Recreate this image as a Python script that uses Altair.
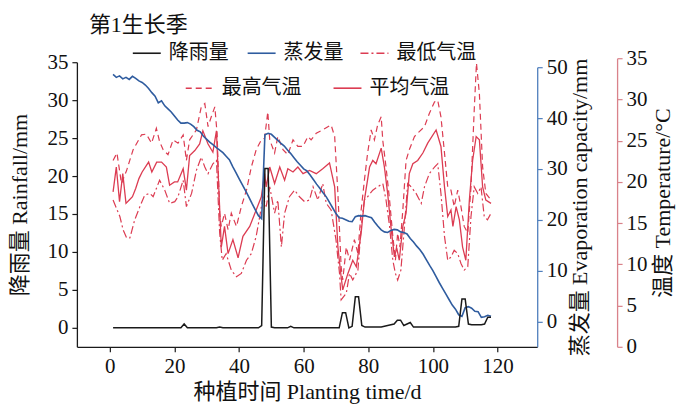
import altair as alt
import pandas as pd

FONT = "Liberation Serif, Noto Sans CJK SC"

# ---------------- data ----------------
rain_days = list(range(1, 119))
rain_mm = [
    0, 0, 0, 0, 0, 0, 0, 0, 0, 0,
    0, 0, 0, 0, 0, 0, 0, 0, 0, 0,
    0, 0, 0.5, 0, 0, 0, 0, 0, 0, 0,
    0, 0, 0, 0.1, 0, 0, 0, 0, 0, 0,
    0, 0, 0, 0, 0, 0, 0.3, 21.0, 21.0, 0.1,
    0, 0, 0, 0, 0, 0.2, 0, 0, 0, 0,
    0, 0, 0, 0, 0, 0, 0, 0, 0, 0,
    0, 2.0, 2.0, 0, 0.2, 4.1, 4.1, 0.3, 0.1, 0.1,
    0.1, 0.1, 0.1, 0.1, 0.2, 0.3, 0.4, 0.5, 1.0, 1.0,
    0.3, 0.5, 0.7, 0.1, 0.1, 0.1, 0.1, 0.1, 0.1, 0.1,
    0.1, 0.1, 0.1, 0.1, 0.1, 0.1, 0.1, 0.2, 3.8, 3.8,
    0.5, 0.4, 0.4, 0.4, 0.4, 0.5, 1.4, 1.4,
]

evap_days = list(range(1, 119))
evap_mm = [
    48.6, 48.0, 48.3, 47.7, 48.0, 47.6, 48.2, 47.8, 47.3, 47.0,
    46.5, 45.8, 45.0, 44.3, 43.0, 43.4, 42.4, 41.8, 41.2, 40.4,
    39.6, 39.0, 39.0, 39.1, 38.8, 38.3, 37.6, 37.3, 36.4, 35.8,
    35.2, 34.7, 34.2, 33.7, 33.2, 32.5, 31.8, 30.5, 29.3, 28.1,
    26.9, 25.7, 24.5, 23.2, 22.0, 20.8, 20.2, 36.7, 37.0, 36.8,
    36.2, 35.6, 35.0, 34.5, 33.7, 33.0, 32.2, 31.4, 30.7, 30.0,
    29.6, 28.8, 27.9, 27.0, 26.2, 25.3, 24.5, 23.4, 22.3, 21.2,
    20.4, 20.3, 20.0, 19.7, 19.6, 20.6, 20.8, 20.7, 20.8, 20.6,
    20.4, 19.5, 18.7, 18.0, 17.6, 17.5, 17.9, 18.1, 18.0, 17.6,
    17.5, 17.2, 16.3, 15.6, 14.8, 14.1, 13.2, 12.1, 11.0, 10.0,
    8.8, 7.6, 6.5, 5.4, 4.3, 3.2, 2.4, 1.3, 1.0, 2.7,
    2.9, 2.6, 2.0, 1.9, 0.8, 0.9, 1.2, 1.0,
]

tmin_days = [1, 3.1, 4.1, 5.2, 6.2, 7.7, 9.3, 10.8, 12.4, 13.4,
             14.4, 15.4, 17, 18.5, 20.1, 21.1, 22.7, 23.7, 25.3, 26.8,
             28.3, 29.4, 30.4, 31.9, 33, 34, 34.8, 36, 37.6, 39.2,
             40.7, 42.3, 43.8, 45.3, 46.4, 47.4, 48.4, 49.5, 51, 52,
             53.1, 54.1, 55.6, 57.2, 58.7, 60.3, 61.8, 62.9, 64.4, 65.9,
             67, 68.5, 70, 71.1, 71.6, 73.2, 74.2, 75.2, 76.8, 77.8,
             78.8, 79.8, 81.4, 82.9, 84.5, 85.5, 86.6, 87.6, 88.4, 89.1,
             90.1, 91.2, 92.2, 93.3, 94.8, 96.4, 97.4, 98.9, 100.5, 101.5,
             102.5, 103.6, 104.6, 105.6, 106.6, 107.7, 108.7, 109.7, 110.8, 111.8,
             112.8, 113.9, 114.9, 115.9, 116.9, 118]
tmin_c = [17.8, 15.8, 14.2, 13.2, 13.2, 15.4, 17.0, 18.4, 18.6, 18.2,
          19.2, 20.2, 19.0, 17.4, 17.6, 18.2, 20.2, 17.0, 18.6, 21.4,
          23.0, 21.8, 21.0, 22.2, 22.6, 13.8, 10.5, 11.3, 9.3, 8.5,
          8.9, 10.5, 11.3, 13.4, 15.8, 18.2, 17.0, 19.4, 16.2, 17.8,
          12.1, 16.2, 18.2, 19.0, 18.2, 17.6, 17.8, 19.4, 17.8, 19.8,
          17.4, 16.6, 13.0, 8.9, 5.7, 6.5, 8.9, 8.1, 9.3, 14.6,
          17.8, 18.2, 19.0, 19.4, 19.8, 17.8, 14.6, 10.5, 8.9, 8.1,
          9.3, 14.6, 19.8, 19.4, 18.6, 17.4, 19.4, 21.0, 21.8, 22.2,
          18.6, 13.4, 10.5, 10.9, 11.7, 11.3, 10.1, 9.3, 9.7, 15.8,
          19.4, 18.6, 19.4, 15.8, 15.4, 16.2]

tmax_days = [1, 2.2, 3.6, 5.2, 7.2, 9.8, 11.3, 12.9, 14.4, 15.4,
             16.5, 18, 19.6, 21.1, 22.7, 23.7, 24.7, 26.8, 28.3, 29.4,
             30.4, 31.4, 32.5, 33.2, 34, 34.5, 35.5, 36.6, 37.6, 39.2,
             40.7, 42.3, 43.8, 45.3, 46.9, 47.9, 48.9, 49.5, 51, 52,
             53.6, 55.1, 56.7, 58.2, 59.8, 61.3, 62.3, 63.9, 65.9, 67.5,
             68.5, 69.6, 70.6, 71.6, 72.1, 73.2, 74.2, 75.7, 76.8, 77.8,
             78.8, 79.8, 80.9, 81.9, 82.9, 84, 84.5, 85.5, 86.6, 87.6,
             88.4, 89.1, 89.8, 90.7, 91.7, 92.7, 94.3, 95.8, 97.4, 98.9,
             100.5, 101.5, 102.5, 103.6, 104.6, 105.6, 106.6, 107.7, 108.7, 109.7,
             110.8, 111.8, 112.8, 113.5, 114.4, 115.4, 116.4, 118]
tmax_c = [22.6, 23.5, 19.8, 21.4, 23.9, 25.7, 25.8, 24.7, 26.5, 24.9,
          23.9, 23.3, 25.1, 24.7, 25.7, 22.6, 25.1, 26.3, 29.1, 29.5,
          26.7, 27.9, 29.1, 25.9, 16.2, 14.6, 16.2, 14.2, 16.2, 14.6,
          17.0, 19.0, 21.8, 23.9, 25.1, 25.3, 28.5, 25.1, 23.5, 25.5,
          23.9, 23.3, 25.1, 24.3, 24.3, 25.5, 25.1, 25.9, 26.3, 26.7,
          26.9, 25.5, 18.6, 9.7, 8.1, 12.1, 10.5, 13.0, 11.3, 16.6,
          20.2, 23.5, 26.3, 25.1, 26.9, 27.9, 25.0, 21.8, 17.8, 13.4,
          10.5, 13.8, 12.1, 16.6, 22.6, 23.9, 25.5, 26.1, 26.7, 28.3,
          29.7, 29.9, 27.9, 23.5, 19.4, 19.0, 17.0, 19.0, 17.0, 14.6,
          13.8, 19.4, 28.7, 34.4, 30.7, 21.8, 18.6, 17.8]

tmean_days = [1, 2, 3, 4, 5, 6, 7, 8, 9, 10,
              12, 13, 14.5, 16, 17.5, 18.5, 20, 21, 22.7, 23.7,
              24.7, 26.3, 27.8, 28.8, 30.4, 31.9, 33, 33.8, 34.5, 35.5,
              36.6, 38.1, 39.7, 41.2, 43.3, 45.3, 46.9, 47.9, 48.4, 49.5,
              51, 52.6, 54.1, 55.1, 56.7, 58.2, 59.8, 61.8, 63.9, 65.9,
              68, 69.6, 70.6, 71.6, 72.1, 73.7, 75.2, 76.3, 77.8, 78.8,
              80.4, 81.4, 82.4, 84, 85, 86, 87, 88.1, 88.8, 89.6,
              90.7, 91.7, 92.7, 93.8, 95.3, 96.9, 98.4, 101, 102.5, 103.6,
              104.6, 105.6, 106.2, 107.2, 108.2, 109.2, 110.2, 111.3, 112.3, 113.4,
              114.4, 115.4, 116.4, 118]
tmean_c = [18.8, 21.8, 17.6, 21.0, 17.4, 17.8, 18.2, 19.2, 20.4, 21.2,
           22.4, 21.2, 22.4, 22.4, 21.8, 19.6, 20.0, 20.0, 21.6, 19.0,
           23.2, 23.8, 24.6, 26.2, 24.6, 23.6, 26.2, 18.6, 12.1, 14.6,
           11.3, 13.0, 10.8, 13.4, 14.6, 16.6, 18.2, 21.0, 19.4, 21.8,
           19.8, 21.8, 20.2, 21.6, 21.2, 21.8, 21.0, 21.4, 21.0, 21.6,
           22.3, 19.4, 12.1, 8.5, 6.9, 8.9, 10.5, 9.7, 13.8, 17.8,
           21.8, 22.6, 22.2, 24.1, 21.8, 18.6, 14.6, 10.9, 12.0, 10.5,
           14.6, 16.2, 21.0, 22.2, 22.6, 23.5, 24.7, 26.3, 24.3, 19.4,
           15.8, 16.6, 14.6, 17.0, 15.4, 12.1, 10.5, 17.8, 22.6, 25.5,
           25.1, 19.4, 17.8, 17.4]

x_ticks = [0, 20, 40, 60, 80, 100, 120]
rain_ticks = [0, 5, 10, 15, 20, 25, 30, 35]
evap_ticks = [0, 10, 20, 30, 40, 50]
temp_ticks = [0, 5, 10, 15, 20, 25, 30, 35]

names = ["降雨量", "蒸发量", "最低气温", "最高气温", "平均气温"]

BLACK = "#1a1a1a"
BLUE = "#2f5c9f"
BLUE_AX = "#4f7fbd"
RED = "#dc3c52"
RED_AX = "#d9828a"

df_rain = pd.DataFrame({"day": rain_days, "v": rain_mm, "s": names[0]})
df_evap = pd.DataFrame({"day": evap_days, "v": evap_mm, "s": names[1]})
df_tmin = pd.DataFrame({"day": tmin_days, "v": tmin_c, "s": names[2]})
df_tmax = pd.DataFrame({"day": tmax_days, "v": tmax_c, "s": names[3]})
df_tmean = pd.DataFrame({"day": tmean_days, "v": tmean_c, "s": names[4]})

W, H = 461, 285

x_enc = alt.X(
    "day:Q",
    scale=alt.Scale(domain=[-10.2, 132.3], nice=False, zero=False),
    axis=alt.Axis(
        values=x_ticks, title="种植时间 Planting time/d",
        tickSize=5, labelPadding=4, titlePadding=5,
        domainColor=BLACK, tickColor=BLACK, domainWidth=1.3, tickWidth=1.2,
    ),
)


def legend(lx, ly, dash=None):
    kw = dict(orient="none", legendX=lx, legendY=ly, title=None,
              symbolType="stroke", symbolSize=784, symbolStrokeWidth=1.6,
              labelFont=FONT, labelFontSize=20, labelColor="#111",
              labelOffset=7, padding=0)
    if dash is not None:
        kw["symbolDash"] = dash
    return alt.Legend(**kw)


def color(name, col, leg):
    return alt.Color("s:N", scale=alt.Scale(domain=[name], range=[col]), legend=leg)


rain = alt.Chart(df_rain).mark_line(strokeWidth=1.5).encode(
    x=x_enc,
    y=alt.Y("v:Q", scale=alt.Scale(domain=[-2.5, 35], nice=False, zero=False),
            axis=alt.Axis(orient="left", values=rain_ticks, title="降雨量 Rainfall/mm",
                          tickSize=5, labelPadding=4, titlePadding=15,
                          domainColor=BLACK, tickColor=BLACK, domainWidth=1.3, tickWidth=1.2)),
    color=color(names[0], BLACK, legend(55, -24)),
)

evap = alt.Chart(df_evap).mark_line(strokeWidth=1.6).encode(
    x=x_enc,
    y=alt.Y("v:Q", scale=alt.Scale(domain=[-5, 50], range=[H, 5], nice=False, zero=False),
            axis=alt.Axis(orient="right", values=evap_ticks, title="蒸发量 Evaporation capacity/mm",
                          tickSize=5, labelPadding=4, titlePadding=2,
                          titleAngle=270, titleBaseline="top",
                          domainColor=BLUE_AX, tickColor=BLUE_AX, domainWidth=1.3, tickWidth=1.2)),
    color=color(names[1], BLUE, legend(170, -24)),
)

temp_scale = alt.Scale(domain=[0, 35], range=[H, -4], nice=False, zero=False)

tmin = alt.Chart(df_tmin).mark_line(strokeWidth=1.2, strokeDash=[8, 3, 2, 3]).encode(
    x=x_enc,
    y=alt.Y("v:Q", scale=temp_scale,
            axis=alt.Axis(orient="right", offset=80, values=temp_ticks, title="温度 Temperature/°C",
                          tickSize=5, labelPadding=4, titlePadding=5,
                          titleAngle=270, titleBaseline="top",
                          domainColor=RED_AX, tickColor=RED_AX, domainWidth=1.3, tickWidth=1.2)),
    color=color(names[2], RED, legend(283, -24, [8, 3, 2, 3])),
)

tmax = alt.Chart(df_tmax).mark_line(strokeWidth=1.2, strokeDash=[6, 4]).encode(
    x=x_enc,
    y=alt.Y("v:Q", scale=temp_scale, axis=None),
    color=color(names[3], RED, legend(108, 11, [6, 4])),
)

tmean = alt.Chart(df_tmean).mark_line(strokeWidth=1.3).encode(
    x=x_enc,
    y=alt.Y("v:Q", scale=temp_scale, axis=None),
    color=color(names[4], RED, legend(256, 11)),
)

chart = alt.layer(tmax, tmin, tmean, evap, rain).resolve_scale(
    y="independent", color="independent"
).properties(
    width=W, height=H,
    autosize="none",
    padding={"left": 69, "top": 54, "right": 140, "bottom": 63},
    title=alt.TitleParams("第1生长季", anchor="start", frame="group", font=FONT,
                          fontSize=22, fontWeight="normal", color="#111", dx=12, dy=3, offset=4),
    background="white",
).configure_view(stroke="transparent").configure_axis(
    grid=False, labelFont=FONT, titleFont=FONT, labelFontSize=21, titleFontSize=22,
    labelColor="#111", titleColor="#111", titleFontWeight="normal",
)

chart.save("out.html", embed_options={"renderer": "svg", "actions": False})
